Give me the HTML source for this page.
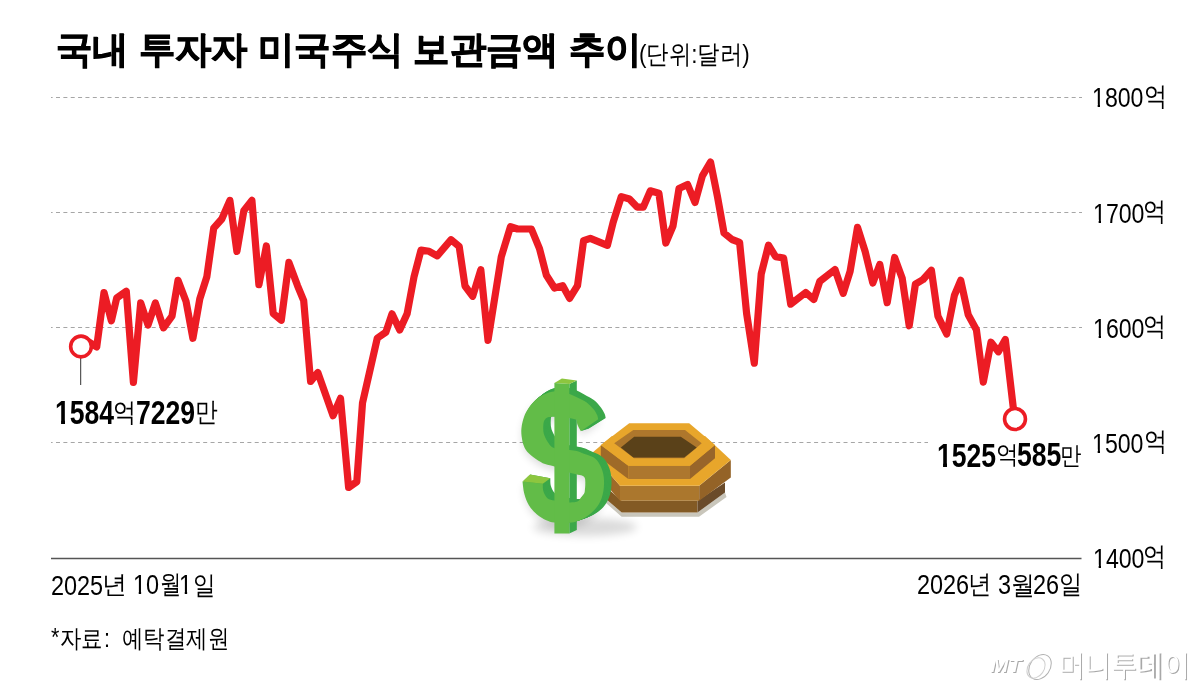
<!DOCTYPE html>
<html><head><meta charset="utf-8">
<style>
html,body{margin:0;padding:0;background:#fff;}
body{width:1200px;height:690px;position:relative;overflow:hidden;font-family:"Liberation Sans",sans-serif;color:#000;}
svg{position:absolute;left:0;top:0;}
.t{position:absolute;white-space:nowrap;line-height:1;}
.t{transform-origin:0 0;}
.one{display:inline-block;clip-path:polygon(0 0,100% 0,100% 73.3%,62.3% 73.3%,62.3% 100%,44% 100%,44% 73.3%,0 73.3%);}
.oneb{display:inline-block;clip-path:polygon(0 0,100% 0,100% 69.8%,67.6% 69.8%,67.6% 100%,41% 100%,41% 69.8%,0 69.8%);}
</style></head>
<body>
<svg width="1200" height="690" viewBox="0 0 1200 690">
  <defs><path id="Sd" d="M598.2 419.2C598.0 418.5,597.9 416.8,597.1 415.1C596.3 413.5,595.3 411.4,593.6 409.3C591.9 407.2,589.5 404.4,586.7 402.4C583.9 400.4,580.2 398.8,576.8 397.2C573.3 395.6,569.6 394.0,566.0 393.0C562.4 392.0,558.9 390.9,555.0 391.2C551.1 391.5,546.6 393.0,542.8 395.0C539.0 397.0,535.4 399.9,532.4 403.2C529.4 406.5,526.6 410.6,524.8 414.8C523.0 419.1,521.8 424.5,521.4 428.7C521.0 432.9,521.7 436.9,522.2 440.0C522.7 443.1,523.5 445.3,524.5 447.5C525.5 449.7,526.6 451.1,528.5 453.0C530.4 454.9,533.1 457.0,535.9 458.9C538.7 460.8,542.0 462.9,545.1 464.1C548.2 465.4,551.6 465.6,554.4 466.4C557.2 467.1,559.5 467.6,562.0 468.6C564.5 469.6,568.1 471.8,569.3 472.4C570.6 472.8,574.9 474.0,577.0 474.5C579.1 475.0,580.7 474.9,582.0 475.5C583.3 476.1,584.4 476.8,584.9 478.2C585.4 479.6,585.3 482.1,585.3 484.0C585.3 485.9,585.1 488.3,584.9 489.8C584.7 491.3,584.9 491.9,584.3 493.2C583.6 494.5,582.1 496.1,581.0 497.5C579.9 498.9,579.4 500.6,577.4 501.4C575.4 502.2,570.6 502.3,569.3 502.5C568.1 502.4,564.5 502.3,562.0 502.0C559.5 501.7,556.8 501.2,554.4 500.6C552.0 500.0,549.2 499.9,547.4 498.3C545.6 496.8,544.2 493.7,543.4 491.3C542.6 488.9,542.9 485.1,542.8 483.8L522.5 481.5C522.8 483.5,523.2 489.7,524.3 493.7C525.4 497.7,526.8 501.8,528.9 505.3C531.0 508.8,534.1 512.0,537.0 514.5C539.9 517.0,543.4 518.9,546.3 520.3C549.2 521.6,550.6 522.2,554.4 522.6C558.2 523.0,565.5 523.1,569.3 522.8C573.1 522.5,574.5 522.1,577.4 521.0C580.3 519.9,583.6 518.5,586.7 516.4C589.8 514.3,593.4 511.4,595.9 508.3C598.4 505.2,600.4 501.8,601.7 497.9C603.1 494.0,603.8 489.4,604.0 485.1C604.2 480.9,603.9 476.2,602.9 472.4C601.9 468.5,600.0 464.6,598.2 462.0C596.5 459.4,594.9 458.2,592.4 456.8C589.9 455.4,585.8 454.4,583.2 453.4C580.6 452.4,579.1 451.6,576.8 451.0C574.5 450.4,572.9 450.3,569.3 449.9C565.7 449.5,557.4 448.6,555.0 448.4C554.1 447.8,551.6 447.2,549.8 444.9C548.0 442.6,545.1 438.0,544.0 434.5C542.9 431.0,543.2 426.5,543.4 424.0C543.6 421.5,544.2 420.6,545.0 419.5C545.8 418.4,546.3 417.8,548.0 417.3C549.7 416.9,551.5 416.7,555.0 416.8C558.5 416.9,565.7 417.5,569.3 418.0C572.9 418.5,575.5 419.5,576.8 419.8C576.9 420.6,576.7 422.5,577.4 424.4C578.1 426.3,580.3 430.1,580.9 431.3L598.2 419.2Z"/><filter id="blur" x="-50%" y="-50%" width="200%" height="200%"><feGaussianBlur stdDeviation="3"/></filter><filter id="blur2" x="-50%" y="-50%" width="200%" height="200%"><feGaussianBlur stdDeviation="4"/></filter></defs>
  <g stroke="#a6a6a6" stroke-width="1" stroke-dasharray="4 3.36" stroke-dashoffset="2.36" fill="none">
    <line x1="51" y1="97.5" x2="1082" y2="97.5"/>
    <line x1="51" y1="212.5" x2="1082" y2="212.5"/>
    <line x1="51" y1="327.5" x2="1082" y2="327.5"/>
    <line x1="51" y1="442.5" x2="1082" y2="442.5"/>
  </g>
  <rect x="928" y="439" width="156" height="7" fill="#fff"/>
  <line x1="51" y1="558.5" x2="1081.5" y2="558.5" stroke="#555" stroke-width="1.3"/>

  <!-- illustration -->
  <g id="illu">
    <!-- shadows -->
    
    <!-- nut shadow -->
    <polygon points="606,503 621.7,516.8 699,516.8 726.5,497 725,492.5 697.5,512.5 621.7,512.5 606,499" fill="#c9c6bb"/>
    <!-- nut lower plate -->
    <polygon points="606,487 621.7,500.8 697.5,500.8 697.5,512.5 621.7,512.5 606,499" fill="#835a24"/>
    <polygon points="697.5,500.8 725,482.5 725,492.5 697.5,512.5" fill="#6a4b2a"/>
    <!-- nut upper plate -->
    <polygon points="591.7,453.3 620,485.8 620,500.8 591.7,468.3" fill="#9f6a28"/>
    <polygon points="620,485.8 699.2,485.8 699.2,500.8 620,500.8" fill="#ab772d"/>
    <polygon points="699.2,485.8 730.8,460 730.8,477.5 699.2,500.8" fill="#946327"/>
    <polygon points="591.7,453.3 612,436 705,436 730.8,460 699.2,485.8 620,485.8" fill="#e8a62b"/>
    <!-- small hex -->
    <polygon points="600.8,445 628.3,465.8 628.3,479.1 600.8,458.3" fill="#9f6a28"/>
    <polygon points="628.3,465.8 690,465.8 690,479.1 628.3,479.1" fill="#ad772e"/>
    <polygon points="690,465.8 715,445 715,458.3 690,479.1" fill="#98652a"/>
    <polygon points="600.8,445 629.2,423.3 689.2,423.3 715,445 690,465.8 628.3,465.8" fill="#e8a62b"/>
    <polygon points="614.2,443.3 633.3,430 685,430 701.7,443.3 684.2,458.3 634.2,458.3" fill="#ae772c"/>
    <polygon points="620.8,447.5 634.2,436.7 680.8,436.7 696.7,447.5 684.2,457.5 633.3,457.5" fill="#5a4119"/>
    <!-- dollar -->
    <ellipse cx="585" cy="527" rx="52" ry="9" fill="#000" opacity="0.14" filter="url(#blur2)"/>
    <use href="#Sd" fill="#000" opacity="0.14" transform="translate(1,4)" filter="url(#blur2)"/>
    <g fill="#3ba849">
      <use href="#Sd" transform="matrix(1 0.0780 0 1 7.500 -47.800)"/>
      <use href="#Sd" transform="matrix(1 0.0663 0 1 6.375 -40.630)"/>
      <use href="#Sd" transform="matrix(1 0.0546 0 1 5.250 -33.460)"/>
      <use href="#Sd" transform="matrix(1 0.0429 0 1 4.125 -26.290)"/>
      <use href="#Sd" transform="matrix(1 0.0312 0 1 3.000 -19.120)"/>
      <use href="#Sd" transform="matrix(1 0.0195 0 1 1.875 -11.950)"/>
      <use href="#Sd" transform="matrix(1 0.0094 0 1 0.900 -5.736)"/>
    </g>
    <polygon points="569.3,384.0 576.8,380.6 576.8,530.0 569.3,533.4" fill="#3ba849"/>
    <polygon points="554.4,383.0 561.9,378.4 576.8,380.6 569.3,384.0" fill="#8dc63f"/>
    <use href="#Sd" fill="#62bc48"/>
    <polygon points="554.4,383 569.3,384 569.3,533.4 554.4,533.4" fill="#62bc48"/>
    <polygon points="522.5,481.5 530.0,474.5 550.3,478.3 542.8,483.8" fill="#8dc63f"/>
  </g>

  <!-- chart line -->
  <polyline fill="none" stroke="#ec1c24" stroke-width="7.2" stroke-linejoin="round" stroke-linecap="round"
    points="84,339 96.7,346.9 104,292.5 111.4,320.8 116.7,298 126.3,291.3 133.4,382.5 140.7,302.8 148,325 155.4,303 163.5,327.8 172,316.2 178,280.4 186,301.2 192.9,338.3 199.8,298.9 206.8,276.9 213.7,228.2 221.8,219 229.9,200.4 236.9,251.4 243.8,210.8 251.9,200.4 258.9,284.7 266.4,246 273.2,313.4 281.3,320.3 288.9,262.4 297.5,285.6 303.7,300.7 310.6,381.5 317.8,372.5 333.1,415.7 340.5,398.3 348.6,487.5 356.8,481.7 362.5,403 377.3,338.1 385.8,332.3 392,313.8 399.7,330 407.1,313.8 414,276.8 421,250.1 429.1,251.3 437.2,255.9 451.1,239.7 459.2,246.6 465,286 472.7,296.3 480.8,269.7 488,340.3 501.3,256.8 510.5,226.6 517.5,229 531.4,229 539.5,248.6 546.4,275.3 554.5,288 562.7,285.7 569.6,298.4 577.5,285.7 583.6,240.6 590.3,238.3 607.4,245.3 613.2,222.1 621.3,196.6 629.4,199 637.1,207.1 643.3,207.1 650.3,190.8 658.9,193.2 665.8,243 673,226 679,188.5 687.6,184.5 695,202.5 702.4,175.9 710.5,162 717.5,196.8 724,233 732,239.5 739.6,242.3 746.6,313.4 754.3,363.2 761.2,274 768.5,245.2 775.6,256.6 783.6,258 790.7,304.1 805.7,292.5 813.8,299.5 819.8,281.4 835,269.5 843.2,293.4 850.1,271.4 857.5,227.4 865.2,251.7 872.8,283 879.8,264.4 887.2,302.7 894.6,257.5 902.2,278.3 909.2,325.8 915.4,284.1 923.1,279.5 931.4,270.2 937.9,316.1 946.7,334 954.4,295.4 960.7,280.3 968.2,314.7 976.4,329.8 983.3,382.1 991,342.2 998.4,351.8 1005.3,339.5 1014.6,419"/>
  <line x1="80.7" y1="357" x2="80.7" y2="385" stroke="#333" stroke-width="1"/>
  <circle cx="81" cy="346.5" r="10.35" fill="#fff" stroke="#ec1c24" stroke-width="3.6"/>
  <circle cx="1015" cy="419" r="10.45" fill="#fff" stroke="#ec1c24" stroke-width="3.6"/>
</svg>


<div class="t" id="title" style="left:55.59px;top:30.93px;font-size:37.20px;font-weight:bold;transform:scaleX(0.9820);-webkit-text-stroke:0.9px #000;">국내 투자자 미국주식 보관금액 추이</div>
<div class="t" id="unit" style="left:639.20px;top:40.53px;font-size:26.04px;font-weight:normal;transform:scaleX(0.8609);">(단위:달러)</div>
<div class="t" id="y1d" style="left:1092.38px;top:84.48px;font-size:27.29px;font-weight:normal;transform:scaleX(0.8480);"><span class="one">1</span>800</div>
<div class="t" id="y2d" style="left:1093.18px;top:199.70px;font-size:27.29px;font-weight:normal;transform:scaleX(0.8480);"><span class="one">1</span>700</div>
<div class="t" id="y3d" style="left:1093.18px;top:314.70px;font-size:27.29px;font-weight:normal;transform:scaleX(0.8480);"><span class="one">1</span>600</div>
<div class="t" id="y4d" style="left:1092.35px;top:429.60px;font-size:27.29px;font-weight:normal;transform:scaleX(0.8480);"><span class="one">1</span>500</div>
<div class="t" id="y5d" style="left:1093.18px;top:544.70px;font-size:27.29px;font-weight:normal;transform:scaleX(0.8480);"><span class="one">1</span>400</div>
<div class="t" id="y1k" style="left:1143.84px;top:83.92px;font-size:25.86px;font-weight:normal;transform:scaleX(0.8918);">억</div>
<div class="t" id="y2k" style="left:1143.47px;top:198.89px;font-size:25.86px;font-weight:normal;transform:scaleX(0.8918);">억</div>
<div class="t" id="y3k" style="left:1143.47px;top:313.89px;font-size:25.86px;font-weight:normal;transform:scaleX(0.8918);">억</div>
<div class="t" id="y4k" style="left:1143.75px;top:429.41px;font-size:25.86px;font-weight:normal;transform:scaleX(0.8918);">억</div>
<div class="t" id="y5k" style="left:1143.47px;top:543.89px;font-size:25.86px;font-weight:normal;transform:scaleX(0.8918);">억</div>
<div class="t" id="a1d1" style="left:55.14px;top:396.06px;font-size:33.81px;font-weight:bold;transform:scaleX(0.7858);"><span class="oneb">1</span>584</div>
<div class="t" id="a1k1" style="left:113.19px;top:400.26px;font-size:25.72px;font-weight:normal;transform:scaleX(0.8905);">억</div>
<div class="t" id="a1d2" style="left:135.56px;top:395.98px;font-size:33.81px;font-weight:bold;transform:scaleX(0.7858);">7229</div>
<div class="t" id="a1k2" style="left:194.58px;top:398.95px;font-size:26.51px;font-weight:normal;transform:scaleX(0.8423);">만</div>
<div class="t" id="a2d1" style="left:936.59px;top:439.15px;font-size:33.81px;font-weight:bold;transform:scaleX(0.7858);"><span class="oneb">1</span>525</div>
<div class="t" id="a2k1" style="left:995.61px;top:443.18px;font-size:24.84px;font-weight:normal;transform:scaleX(0.9036);">억</div>
<div class="t" id="a2d2" style="left:1017.30px;top:437.90px;font-size:33.81px;font-weight:bold;transform:scaleX(0.7858);">585</div>
<div class="t" id="a2k2" style="left:1060.49px;top:442.90px;font-size:25.33px;font-weight:normal;transform:scaleX(0.8571);">만</div>
<div class="t" id="d1a" style="left:50.97px;top:572.57px;font-size:27.02px;font-weight:normal;transform:scaleX(0.8680);">2025</div>
<div class="t" id="d1b" style="left:101.54px;top:572.30px;font-size:25.25px;font-weight:normal;transform:scaleX(0.9998);">년</div>
<div class="t" id="d1c" style="left:133.08px;top:571.85px;font-size:27.02px;font-weight:normal;transform:scaleX(0.8680);"><span class="one">1</span>0</div>
<div class="t" id="d1d" style="left:160.15px;top:572.46px;font-size:25.78px;font-weight:normal;transform:scaleX(0.8219);">월</div>
<div class="t" id="d1e" style="left:179.33px;top:571.85px;font-size:27.02px;font-weight:normal;transform:scaleX(0.8680);"><span class="one">1</span></div>
<div class="t" id="d1f" style="left:192.72px;top:572.54px;font-size:25.69px;font-weight:normal;transform:scaleX(0.8703);">일</div>
<div class="t" id="d2a" style="left:917.15px;top:571.83px;font-size:27.02px;font-weight:normal;transform:scaleX(0.8680);">2026</div>
<div class="t" id="d2b" style="left:968.21px;top:571.52px;font-size:25.96px;font-weight:normal;transform:scaleX(0.9038);">년</div>
<div class="t" id="d2c" style="left:997.85px;top:571.87px;font-size:27.02px;font-weight:normal;transform:scaleX(0.8680);">3</div>
<div class="t" id="d2d" style="left:1011.39px;top:572.55px;font-size:25.63px;font-weight:normal;transform:scaleX(0.9139);">월</div>
<div class="t" id="d2e" style="left:1033.04px;top:571.83px;font-size:27.02px;font-weight:normal;transform:scaleX(0.8680);">26</div>
<div class="t" id="d2f" style="left:1058.61px;top:572.45px;font-size:25.75px;font-weight:normal;transform:scaleX(0.8941);">일</div>
<div class="t" id="s4" style="left:122.07px;top:626.36px;font-size:25.12px;font-weight:normal;transform:scaleX(0.8567);">예탁결제원</div>
<div class="t" id="s2" style="left:60.39px;top:625.55px;font-size:25.12px;font-weight:normal;transform:scaleX(0.8567);">자료</div>
<div class="t" id="s1" style="left:51.21px;top:625.34px;font-size:25.12px;font-weight:normal;transform:scaleX(0.8567);">*</div>
<div class="t" id="s3" style="left:103.75px;top:626.36px;font-size:25.12px;font-weight:normal;transform:scaleX(0.8567);">:</div>
<svg width="1200" height="690" viewBox="0 0 1200 690" style="pointer-events:none">
  <defs><filter id="nof"><feOffset dx="0" dy="0"/></filter><filter id="emb" x="-20%" y="-20%" width="140%" height="140%"><feGaussianBlur stdDeviation="0.4"/></filter></defs>
  <g font-family="Liberation Sans, sans-serif" font-style="italic" font-size="18" font-weight="bold" transform="translate(990.3,672.3) scale(1.2,1)">
    <text x="0.9" y="1" fill="#a8a8a8" filter="url(#emb)">MT</text>
    <text x="0" y="0" fill="#fff" filter="url(#nof)">MT</text>
  </g>
  <g fill="none" stroke-width="1" filter="url(#emb)">
    <ellipse cx="1040" cy="667" rx="10" ry="13.5" transform="rotate(35 1040 667)" stroke="#b0b0b0"/>
    <ellipse cx="1036" cy="668" rx="8" ry="11" transform="rotate(35 1036 668)" stroke="#d0d0d0"/>
  </g>
</svg>
<div class="t" style="left:1058.5px;top:650px;font-size:30px;color:#fff;text-shadow:1.2px 1.2px 0.7px #a8a8a8;transform:scaleX(0.872);">머니투데이</div>
</body></html>
